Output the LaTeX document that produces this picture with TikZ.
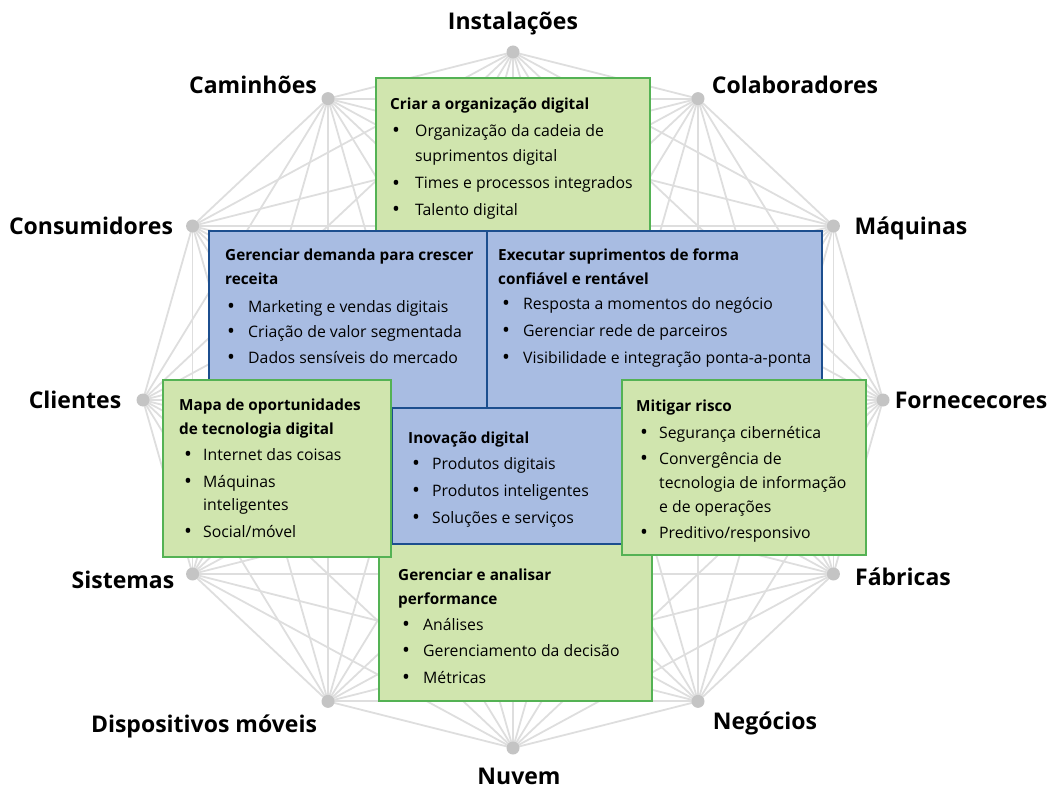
\documentclass[tikz,border=0pt]{standalone}
\usepackage{fontspec}
\setmainfont{Open Sans}
\usetikzlibrary{calc}

\definecolor{boxgreen}{RGB}{208,229,174}
\definecolor{edgegreen}{RGB}{84,178,84}
\definecolor{boxblue}{RGB}{168,188,226}
\definecolor{edgeblue}{RGB}{28,78,142}
\definecolor{netgray}{RGB}{222,222,222}
\definecolor{dotgray}{RGB}{196,196,196}

\tikzset{
  greenbox/.style={fill=boxgreen, draw=edgegreen, line width=2pt},
  bluebox/.style={fill=boxblue, draw=edgeblue, line width=2pt},
  head/.style={anchor=base west, inner sep=0, font=\fontsize{15.3}{18}\selectfont\bfseries},
  item/.style={anchor=base west, inner sep=0, font=\fontsize{15.8}{18}\selectfont},
  bul/.style={anchor=base west, inner sep=0, font=\fontsize{21}{18}\selectfont},
  place/.style={anchor=base, inner sep=0, font=\fontsize{23}{26}\selectfont\bfseries},
  dot/.style={circle, fill=dotgray, inner sep=0, minimum size=13pt},
}

\begin{document}
\begin{tikzpicture}[x=1pt, y=-1pt]
\useasboundingbox (0,0) rectangle (1053,789);

% twelve points round the network
\foreach \i in {0,...,11}
  \coordinate (c\i) at ({513+370*cos(90-30*\i)}, {400-348*sin(90-30*\i)});

\foreach \i in {0,...,10}{
  \pgfmathtruncatemacro\nxt{\i+1}
  \foreach \j in {\nxt,...,11}
    \draw[netgray, line width=1.8pt] (c\i) -- (c\j);
}
\foreach \i in {0,...,11}
  \node[dot] (n\i) at (c\i) {};

\node[place] (l0) at (513,30) {Instalações};
\node[place] (l1) at (795,94) {Colaboradores};
\node[place] (l2) at (911,234) {Máquinas};
\node[place] (l3) at (971,408) {Fornececores};
\node[place] (l4) at (903,585) {Fábricas};
\node[place] (l5) at (765,729) {Negócios};
\node[place] (l6) at (519,784) {Nuvem};
\node[place] (l7) at (204,732) {Dispositivos móveis};
\node[place] (l8) at (123,588) {Sistemas};
\node[place] (l9) at (75,408) {Clientes};
\node[place] (l10) at (91,234) {Consumidores};
\node[place] (l11) at (253,94) {Caminhões};

% boxes
\draw[greenbox] (376,78) rectangle (650,240);
\draw[greenbox] (379,530) rectangle (652,701);
\draw[bluebox] (209,231) rectangle (487,408);
\draw[bluebox] (487,231) rectangle (822,408);
\draw[bluebox] (392,408) rectangle (622,544);
\draw[greenbox] (163,380) rectangle (391,557);
\draw[greenbox] (622,380) rectangle (866,555);

\begin{scope}[yshift=-2pt]
% Criar a organizacao digital
\node[head] (h1) at (390,108) {Criar a organização digital};
\node[bul] (b1a) at (392,136) {•};
\node[item] (t1a) at (415,135) {Organização da cadeia de};
\node[item] (t1b) at (415,160) {suprimentos digital};
\node[bul] (b1c) at (392,188) {•};
\node[item] (t1c) at (415,187) {Times e processos integrados};
\node[bul] (b1d) at (392,214) {•};
\node[item] (t1d) at (415,213) {Talento digital};

% Gerenciar demanda
\node[head] (h2a) at (225,258) {Gerenciar demanda para crescer};
\node[head] (h2b) at (225,282) {receita};
\node[bul] (b2a) at (227,311) {•};
\node[item] (t2a) at (248,310) {Marketing e vendas digitais};
\node[bul] (b2b) at (227,336) {•};
\node[item] (t2b) at (248,335) {Criação de valor segmentada};
\node[bul] (b2c) at (227,362) {•};
\node[item] (t2c) at (248,361) {Dados sensíveis do mercado};

% Executar suprimentos
\node[head] (h3a) at (498,258) {Executar suprimentos de forma};
\node[head] (h3b) at (498,282) {confiável e rentável};
\node[bul] (b3a) at (502,308) {•};
\node[item] (t3a) at (523,307) {Resposta a momentos do negócio};
\node[bul] (b3b) at (502,335) {•};
\node[item] (t3b) at (523,334) {Gerenciar rede de parceiros};
\node[bul] (b3c) at (502,362) {•};
\node[item] (t3c) at (523,361) {Visibilidade e integração ponta-a-ponta};

% Mapa de oportunidades
\node[head] (h4a) at (179,408) {Mapa de oportunidades};
\node[head] (h4b) at (179,432) {de tecnologia digital};
\node[bul] (b4a) at (184,459) {•};
\node[item] (t4a) at (203,458) {Internet das coisas};
\node[bul] (b4b) at (184,486) {•};
\node[item] (t4b) at (203,485) {Máquinas};
\node[item] (t4c) at (203,508) {inteligentes};
\node[bul] (b4d) at (184,536) {•};
\node[item] (t4d) at (203,535) {Social/móvel};

% Inovacao digital
\node[head] (h5) at (408,441) {Inovação digital};
\node[bul] (b5a) at (412,468) {•};
\node[item] (t5a) at (432,467) {Produtos digitais};
\node[bul] (b5b) at (412,495) {•};
\node[item] (t5b) at (432,494) {Produtos inteligentes};
\node[bul] (b5c) at (412,522) {•};
\node[item] (t5c) at (432,521) {Soluções e serviços};

% Mitigar risco
\node[head] (h6) at (636,409) {Mitigar risco};
\node[bul] (b6a) at (640,437) {•};
\node[item] (t6a) at (659,436) {Segurança cibernética};
\node[bul] (b6b) at (640,463) {•};
\node[item] (t6b) at (659,462) {Convergência de};
\node[item] (t6c) at (659,486) {tecnologia de informação};
\node[item] (t6d) at (659,510) {e de operações};
\node[bul] (b6e) at (640,537) {•};
\node[item] (t6e) at (659,536) {Preditivo/responsivo};

% Gerenciar e analisar performance
\node[head] (h7a) at (398,578) {Gerenciar e analisar};
\node[head] (h7b) at (398,602) {performance};
\node[bul] (b7a) at (402,629) {•};
\node[item] (t7a) at (423,628) {Análises};
\node[bul] (b7b) at (402,655) {•};
\node[item] (t7b) at (423,654) {Gerenciamento da decisão};
\node[bul] (b7c) at (402,682) {•};
\node[item] (t7c) at (423,681) {Métricas};
\end{scope}
\end{tikzpicture}
\end{document}
